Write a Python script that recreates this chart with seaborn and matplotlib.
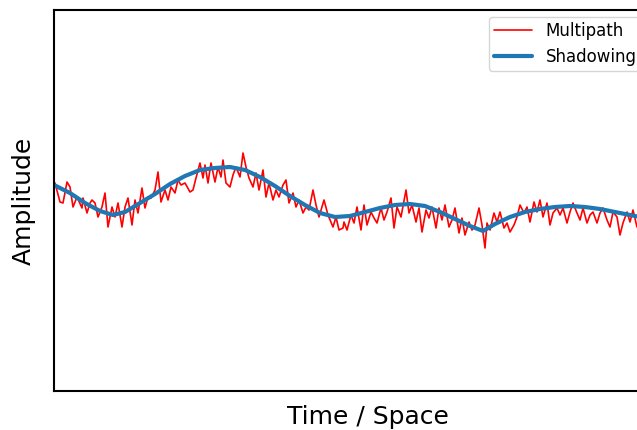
"""
Multipath vs. shadowing fading sketch.
"""

import matplotlib

matplotlib.use("Agg")
import matplotlib.pyplot as plt
import pandas as pd
import seaborn as sns

# Fast fading (multipath) samples
multipath_pos = [
    1, 6, 9, 13, 16, 19, 23, 28, 29, 33, 36, 38, 41, 44, 48, 51, 54, 58, 61, 64,
    68, 71, 74, 78, 81, 84, 88, 91, 94, 97, 101, 104, 107, 111, 114, 117, 121, 124,
    127, 131, 136, 139, 142, 146, 149, 151, 154, 157, 161, 164, 167, 169, 172, 176,
    179, 182, 186, 189, 192, 195, 199, 202, 205, 209, 212, 215, 219, 222, 225, 229,
    232, 235, 239, 242, 245, 249, 252, 255, 259, 262, 265, 270, 274, 279, 282, 285,
    289, 290, 293, 297, 300, 303, 307, 310, 313, 317, 320, 323, 327, 330, 333, 337,
    340, 343, 347, 352, 355, 358, 362, 365, 368, 372, 375, 378, 382, 385, 388, 391,
    395, 398, 401, 405, 408, 411, 415, 418, 421, 425, 428, 431, 433, 436, 440, 443,
    446, 450, 453, 456, 460, 463, 466, 470, 473, 476, 480, 483, 486, 489, 493, 496,
    499, 503, 506, 509, 513, 516, 519, 523, 526, 529, 533, 536, 539, 543, 546, 549,
    553, 556, 559, 563, 566, 569, 573, 576, 579, 583, 587, 591,
]
multipath_amp = [
    208, 189, 188, 209, 204, 184, 194, 183, 193, 178, 188, 191, 188, 174, 184, 198,
    164, 184, 174, 188, 164, 184, 193, 166, 191, 178, 203, 183, 194, 193, 201, 219,
    189, 201, 191, 204, 198, 211, 206, 208, 199, 201, 213, 228, 213, 226, 208, 228,
    209, 224, 214, 231, 208, 204, 216, 224, 214, 238, 224, 213, 204, 218, 201, 221,
    194, 208, 191, 201, 194, 206, 211, 188, 198, 184, 191, 178, 184, 181, 201, 186,
    174, 191, 176, 164, 174, 161, 163, 169, 161, 176, 168, 184, 161, 186, 166, 179,
    173, 168, 183, 171, 179, 193, 163, 184, 174, 201, 178, 186, 169, 183, 159, 181,
    173, 184, 163, 183, 171, 186, 164, 171, 183, 158, 173, 156, 169, 161, 166, 183,
    166, 143, 168, 161, 178, 169, 179, 163, 168, 159, 166, 174, 186, 178, 184, 169,
    189, 179, 191, 174, 188, 166, 178, 183, 176, 183, 168, 179, 188, 178, 171, 183,
    168, 176, 179, 168, 178, 183, 171, 164, 179, 174, 156, 168, 179, 169, 181, 164,
    179, 171,
]

# Slow fading (shadowing) trend
shadowing_pos = [
    0, 16, 31, 46, 59, 71, 86, 101, 116, 131, 146, 161, 176, 191, 206, 221, 236,
    251, 266, 281, 296, 311, 326, 341, 356, 371, 386, 401, 416, 429, 441, 456, 471,
    486, 501, 516, 531, 546, 561, 576, 591, 606, 628,
]
shadowing_amp = [
    206, 198, 188, 180, 176, 179, 188, 197, 207, 215, 221, 223, 224, 221, 214, 205,
    195, 186, 178, 174, 175, 179, 183, 186, 187, 185, 179, 172, 165, 160, 167, 174,
    179, 182, 184, 185, 184, 182, 179, 176, 173, 171, 169,
]

multipath_df = pd.DataFrame({"pos": multipath_pos, "amp": multipath_amp})
shadowing_df = pd.DataFrame({"pos": shadowing_pos, "amp": shadowing_amp})

sns.set_style("white", {"axes.edgecolor": "black", "text.color": "black",
                        "axes.labelcolor": "black"})
plt.rcParams["font.family"] = ["DejaVu Sans"]

fig = plt.figure(figsize=(6.37, 4.30), dpi=100)
# axes run past the right edge of the canvas, like the cropped original
ax = fig.add_axes([54 / 637, 39 / 430, 628 / 637, 381 / 430])

sns.lineplot(data=multipath_df, x="pos", y="amp", color="red", lw=1.2,
             label="Multipath", ax=ax)
sns.lineplot(data=shadowing_df, x="pos", y="amp", color="#1f77b4", lw=3.0,
             label="Shadowing", ax=ax)

ax.set_xlim(0, 628)
ax.set_ylim(0, 381)
ax.set_xticks([])
ax.set_yticks([])
for spine in ax.spines.values():
    spine.set_linewidth(1.5)
    spine.set_color("black")

ax.set_xlabel("Time / Space", fontsize=18, labelpad=10)
ax.set_ylabel("Amplitude", fontsize=18, labelpad=13)

ax.legend(loc="upper left", bbox_to_anchor=(489 / 637, 1 - 17 / 430),
          bbox_transform=fig.transFigure, borderaxespad=0, fontsize=12,
          handlelength=2.3, labelspacing=0.45, borderpad=0.3, frameon=True)

fig.savefig("out.png", dpi=100)
